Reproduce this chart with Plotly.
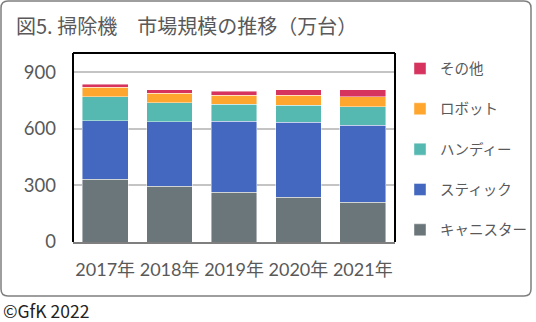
import plotly.graph_objects as go

years = ["2017年", "2018年", "2019年", "2020年", "2021年"]
canister = [334, 297, 263, 238, 210]
stick = [310, 342, 378, 398, 410]
handy = [128, 101, 89, 90, 99]
robot = [50, 50, 50, 54, 53]
other = [16, 18, 21, 28, 36]

series = [
    ("キャニスター", canister, "#6B767B"),
    ("スティック", stick, "#4468C0"),
    ("ハンディー", handy, "#55B8B1"),
    ("ロボット", robot, "#FFA62F"),
    ("その他", other, "#D6345F"),
]

W, H = 536, 322
L, R, T, B = 73, 395, 53, 242

def px(x):
    return (x - L) / (R - L)

def py(y):
    return (B - y) / (B - T)

fig = go.Figure()
n = len(series)
for i, (name, vals, col) in enumerate(series):
    fig.add_trace(go.Bar(
        x=years, y=vals, name=name, legendgroup=name, legendrank=n - i,
        marker=dict(color=col, line=dict(color="rgba(255,255,255,0.55)", width=0.8)),
    ))

txt = "#595959"
# outer rounded box
x0, x1, y0, y1, r = 1, 531, 1, 296, 7
path = (f"M {px(x0+r)},{py(y0)} L {px(x1-r)},{py(y0)} Q {px(x1)},{py(y0)} {px(x1)},{py(y0+r)} "
        f"L {px(x1)},{py(y1-r)} Q {px(x1)},{py(y1)} {px(x1-r)},{py(y1)} "
        f"L {px(x0+r)},{py(y1)} Q {px(x0)},{py(y1)} {px(x0)},{py(y1-r)} "
        f"L {px(x0)},{py(y0+r)} Q {px(x0)},{py(y0)} {px(x0+r)},{py(y0)} Z")

fig.update_layout(
    width=W, height=H,
    margin=dict(l=L, r=W - R, t=T, b=H - B, autoexpand=False),
    paper_bgcolor="white", plot_bgcolor="white",
    barmode="stack", bargap=0.29,
    font=dict(family="'Noto Sans CJK JP', sans-serif", color=txt),
    xaxis=dict(showgrid=False, showline=True, linecolor="#7F7F7F", linewidth=2,
               ticks="", tickangle=0,
               tickfont=dict(family="Lato, 'Noto Sans CJK JP'", size=18, color=txt),
               ticklabelstandoff=10),
    yaxis=dict(range=[0, 1003], tickvals=[0, 300, 600, 900], showgrid=True,
               gridcolor="#C4C4C4", gridwidth=1.5, zeroline=False, showline=False,
               ticks="", tickfont=dict(family="Lato, 'Noto Sans CJK JP'", size=18.5, color=txt),
               ticklabelstandoff=16),
    legend=dict(x=px(400), xanchor="left", y=py(52.5), yanchor="top",
                traceorder="grouped", tracegroupgap=18.5, maxheight=300,
                font=dict(size=14.5, color=txt, family="'Noto Sans CJK JP'"),
                itemclick=False, bgcolor="rgba(0,0,0,0)"),
    shapes=[
        dict(type="path", xref="paper", yref="paper", path=path,
             line=dict(color="#7F7F7F", width=1.5), layer="below"),
        dict(type="line", xref="paper", yref="paper", x0=0, x1=0, y0=0, y1=1,
             line=dict(color="black", width=2)),
        dict(type="line", xref="paper", yref="paper", x0=0, x1=1, y0=1, y1=1,
             line=dict(color="black", width=2)),
        dict(type="line", xref="paper", yref="paper", x0=1, x1=1, y0=0, y1=1,
             line=dict(color="black", width=2)),
    ],
    annotations=[
        dict(text="図5. 掃除機　市場規模の推移（万台）", xref="paper", yref="paper",
             x=px(14), y=py(25), xanchor="left", yanchor="middle", showarrow=False,
             font=dict(size=20, color=txt, family="'Noto Sans CJK JP'")),
        dict(text="©GfK 2022", xref="paper", yref="paper",
             x=px(1), y=py(310), xanchor="left", yanchor="middle", showarrow=False,
             font=dict(size=17.5, color="#222222", family="'Noto Sans CJK JP'")),
    ],
)

fig.write_html("out.html")
